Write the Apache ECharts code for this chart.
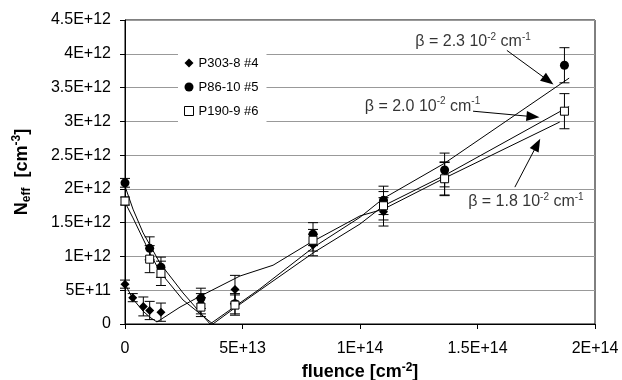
<!DOCTYPE html>
<html><head><meta charset="utf-8">
<script src="https://cdn.jsdelivr.net/npm/echarts@6/dist/echarts.min.js"></script>
<style>html,body{margin:0;padding:0;background:#fff}#c{width:622px;height:380px}</style>
</head><body><div id="c"></div>
<script>
// ---- data ----
const seriesNames = ['P303-8 #4', 'P86-10 #5', 'P190-9 #6'];
const xTickLabels = ['0', '5E+13', '1E+14', '1.5E+14', '2E+14'];
const yTickLabels = ['0', '5E+11', '1E+12', '1.5E+12', '2E+12', '2.5E+12', '3E+12', '3.5E+12', '4E+12', '4.5E+12'];

const fluenceA = [0, 3.3e12, 7.8e12, 1.05e13, 1.53e13, 3.23e13, 4.68e13, 8.0e13, 1.1e14, 1.36e14];
const neffA    = [5.9e11, 3.9e11, 2.6e11, 2.0e11, 1.75e11, 3.0e11, 5.1e11, 1.17e12, 1.66e12, 2.15e12];
const errA     = [6e10, 6e10, 1.4e11, 1.35e11, 1.35e11, 1.5e11, 2.1e11, 1.6e11, 2.1e11, 2.4e11];

const fluenceB = [0, 1.05e13, 1.53e13, 3.23e13, 4.68e13, 8.0e13, 1.1e14, 1.36e14, 1.87e14];
const neffB    = [2.09e12, 1.12e12, 8.4e11, 3.8e11, 3.0e11, 1.33e12, 1.83e12, 2.28e12, 3.83e12];
const errB     = [6.5e10, 1.7e11, 1.5e11, 1.5e11, 1.5e11, 1.7e11, 2.1e11, 2.5e11, 2.6e11];

const fluenceC = [0, 1.05e13, 1.53e13, 3.23e13, 4.68e13, 8.0e13, 1.1e14, 1.36e14, 1.87e14];
const neffC    = [1.82e12, 9.6e11, 7.5e11, 2.5e11, 2.8e11, 1.24e12, 1.75e12, 2.15e12, 3.15e12];
const errC     = [6e10, 2.0e11, 1.8e11, 1.4e11, 1.5e11, 1.6e11, 2.1e11, 2.5e11, 2.6e11];

// fit curves (beta = 1.8, 2.3, 2.0 x10^-2 cm^-1)
const fitAX = [0, 3.4e12, 7.7e12, 1.06e13, 1.36e13, 2.34e13, 3.19e13, 4.89e13, 6.3e13, 7.87e13, 1.0e14, 1.1e14, 1.36e14, 1.85e14];
const fitAY = [5.9e11, 3.7e11, 1.9e11, 1.0e11, 3e10, 2.5e11, 4.1e11, 7.1e11, 8.7e11, 1.2e12, 1.6e12, 1.7e12, 2.16e12, 2.99e12];
const fitBX = [0, 3.4e12, 7.7e12, 1.06e13, 1.49e13, 2.47e13, 3.62e13, 4.72e13, 5.74e13, 8.04e13, 1.0e14, 1.1e14, 1.36e14, 1.89e14];
const fitBY = [2.04e12, 1.70e12, 1.35e12, 1.17e12, 9.0e11, 4.6e11, 0, 2.7e11, 5.2e11, 1.14e12, 1.58e12, 1.86e12, 2.38e12, 3.64e12];
const fitCX = [0, 3.4e12, 1.06e13, 1.49e13, 2.47e13, 3.74e13, 4.72e13, 5.74e13, 8.04e13, 1.0e14, 1.1e14, 1.36e14, 1.89e14];
const fitCY = [1.80e12, 1.57e12, 1.05e12, 7.7e11, 3.55e11, 0, 2.5e11, 5.0e11, 1.06e12, 1.48e12, 1.75e12, 2.20e12, 3.22e12];

// annotations
const betaTexts  = ['2.3', '2.0', '1.8'];
const betaTextPos = [[1.481e14, 4.175e12], [1.266e14, 3.224e12], [1.706e14, 1.809e12]];
const arrowFrom  = [[1.625e14, 4.05e12], [1.481e14, 3.15e12], [1.659e14, 2.026e12]];
const arrowTo    = [[1.801e14, 3.603e12], [1.736e14, 3.069e12], [1.754e14, 2.658e12]];

// ---- chart ----
const FONT = 'Arial, "Liberation Sans", sans-serif';
const chart = echarts.init(document.getElementById('c'), null, {renderer: 'canvas'});

function zip(xs, ys) { return xs.map((x, i) => [x, ys[i]]); }

function errSeries(xs, ys, es) {
  return {
    type: 'custom', silent: true, z: 4,
    data: xs.map((x, i) => [x, ys[i] - es[i], ys[i] + es[i]]),
    encode: {x: 0, y: [1, 2]},
    renderItem: function (params, api) {
      const x = api.value(0);
      const p1 = api.coord([x, api.value(1)]);
      const p2 = api.coord([x, api.value(2)]);
      const w = 5;
      const st = {stroke: '#000', lineWidth: 1};
      return {type: 'group', children: [
        {type: 'line', shape: {x1: p1[0], y1: p1[1], x2: p2[0], y2: p2[1]}, style: st},
        {type: 'line', shape: {x1: p1[0] - w, y1: p1[1], x2: p1[0] + w, y2: p1[1]}, style: st},
        {type: 'line', shape: {x1: p2[0] - w, y1: p2[1], x2: p2[0] + w, y2: p2[1]}, style: st}
      ]};
    }
  };
}

function fitSeries(name, xs, ys) {
  return {
    name: name, type: 'line', data: zip(xs, ys), showSymbol: false, symbol: 'none',
    lineStyle: {color: '#000', width: 1}, silent: true, z: 3
  };
}

const richBeta = {
  m: {fontSize: 16, fontFamily: FONT, color: '#000', lineHeight: 20},
  s: {fontSize: 10, fontFamily: FONT, color: '#000', lineHeight: 10, verticalAlign: 'top'}
};

const option = {
  animation: false,
  backgroundColor: '#fff',
  textStyle: {fontFamily: FONT},
  grid: {left: 125, right: 27, top: 20, bottom: 56, show: true, borderColor: '#000', borderWidth: 1,
         backgroundColor: 'transparent', outerBoundsMode: 'none', containLabel: false},
  legend: {
    orient: 'vertical', left: 178, top: 54,
    backgroundColor: '#fff', padding: [2, 8, 4, 6], itemGap: 10,
    itemWidth: 9, itemHeight: 9,
    textStyle: {fontFamily: FONT, fontSize: 13, color: '#000', lineHeight: 14},
    data: [
      {name: seriesNames[0], icon: 'diamond', itemStyle: {color: '#000', opacity: 1}},
      {name: seriesNames[1], icon: 'circle', itemStyle: {color: '#000', opacity: 1}},
      {name: seriesNames[2], icon: 'rect', itemStyle: {color: '#fff', borderColor: '#000', borderWidth: 1, opacity: 1}}
    ]
  },
  xAxis: {
    type: 'value', min: 0, max: 2e14, interval: 5e13,
    name: '{m|fluence [cm}{s|-2}{m|]}', nameLocation: 'middle', nameGap: 25,
    nameTextStyle: {
      rich: {
        m: {fontSize: 18, fontWeight: 'bold', fontFamily: FONT, color: '#000', lineHeight: 20},
        s: {fontSize: 12, fontWeight: 'bold', fontFamily: FONT, color: '#000', lineHeight: 12, verticalAlign: 'top'}
      }
    },
    axisLine: {show: true, lineStyle: {color: '#000', width: 1}},
    axisTick: {show: true, inside: false, length: 5, lineStyle: {color: '#000'}},
    axisLabel: {margin: 17, fontSize: 16, color: '#000', fontFamily: FONT, hideOverlap: false,
      formatter: v => xTickLabels[Math.round(v / 5e13)]},
    splitLine: {show: false}
  },
  yAxis: {
    type: 'value', min: 0, max: 4.5e12, interval: 5e11,
    name: '{m|N}{b|eff}{m|  [cm}{s|-3}{m|]}', nameLocation: 'middle', nameGap: 92, nameRotate: 90,
    nameTextStyle: {
      rich: {
        m: {fontSize: 18, fontWeight: 'bold', fontFamily: FONT, color: '#000', lineHeight: 22},
        b: {fontSize: 12, fontWeight: 'bold', fontFamily: FONT, color: '#000', lineHeight: 14, verticalAlign: 'bottom'},
        s: {fontSize: 12, fontWeight: 'bold', fontFamily: FONT, color: '#000', lineHeight: 12, verticalAlign: 'top'}
      }
    },
    axisLine: {show: true, lineStyle: {color: '#000', width: 1}},
    axisTick: {show: true, inside: false, length: 5, lineStyle: {color: '#000'}},
    axisLabel: {margin: 14, fontSize: 16, color: '#000', fontFamily: FONT,
      formatter: v => yTickLabels[Math.round(v / 5e11)]},
    splitLine: {show: true, lineStyle: {color: '#999', width: 1}}
  },
  series: [
    fitSeries('fitA', fitAX, fitAY),
    fitSeries('fitB', fitBX, fitBY),
    fitSeries('fitC', fitCX, fitCY),
    errSeries(fluenceA, neffA, errA),
    errSeries(fluenceB, neffB, errB),
    errSeries(fluenceC, neffC, errC),
    {name: seriesNames[0], type: 'scatter', data: zip(fluenceA, neffA), symbol: 'diamond', symbolSize: 9,
     itemStyle: {color: '#000', opacity: 1}, z: 5},
    {name: seriesNames[1], type: 'scatter', data: zip(fluenceB, neffB), symbol: 'circle', symbolSize: 9,
     itemStyle: {color: '#000', opacity: 1}, z: 5},
    {name: seriesNames[2], type: 'scatter', data: zip(fluenceC, neffC), symbol: 'rect', symbolSize: 8,
     itemStyle: {color: '#fff', borderColor: '#000', borderWidth: 1, opacity: 1}, z: 6},
    {
      name: 'annot', type: 'scatter', silent: true, z: 7, symbolSize: 0,
      data: betaTextPos.map((p, i) => [p[0], p[1], betaTexts[i]]),
      label: {
        show: true, position: 'inside', color: '#000',
        formatter: p => '{m|\u03b2 = ' + p.value[2] + ' 10}{s|-2}{m| cm}{s|-1}',
        rich: richBeta
      },
      markLine: {
        silent: true, symbol: ['none', 'triangle'], symbolSize: [10, 13],
        lineStyle: {color: '#000', width: 1, type: 'solid'},
        label: {show: false},
        data: arrowFrom.map((f, i) => [{coord: f}, {coord: arrowTo[i]}])
      }
    }
  ]
};
chart.setOption(option);
</script>
</body></html>
